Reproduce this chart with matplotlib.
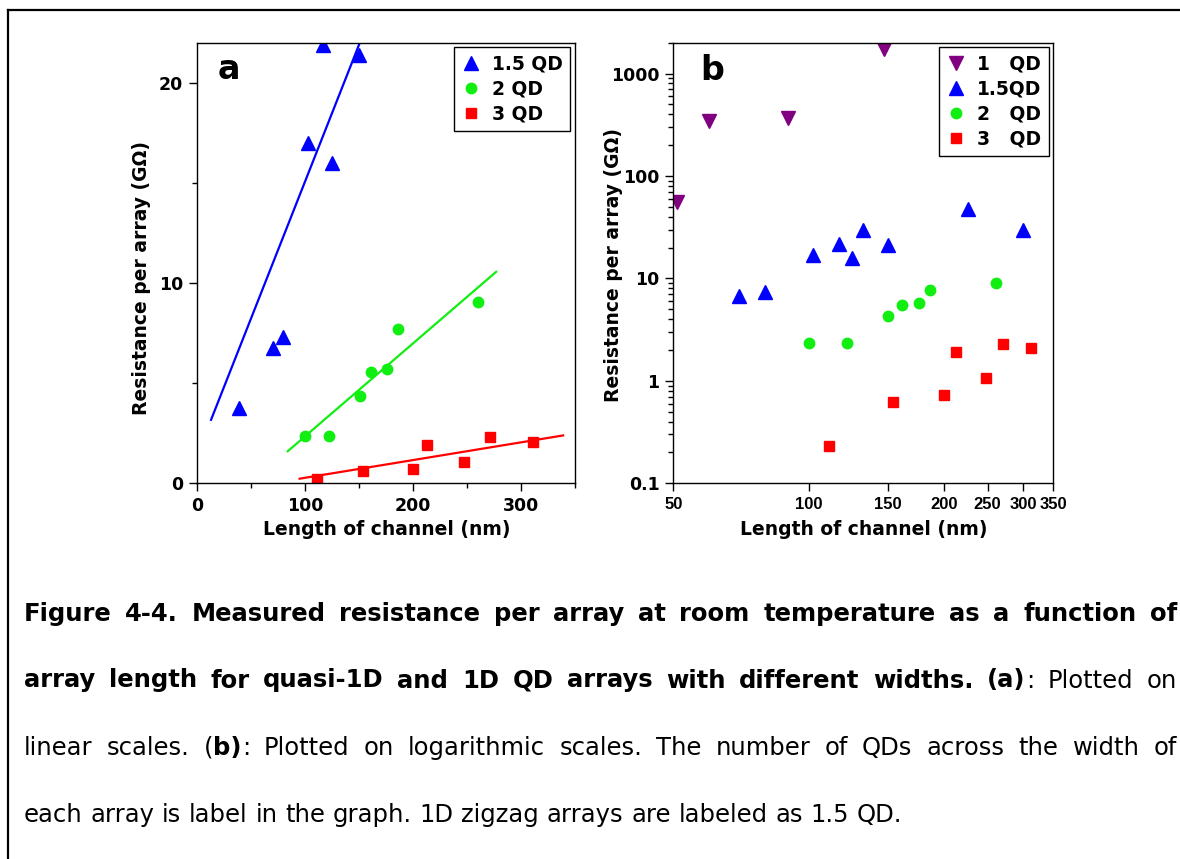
import numpy as np
import matplotlib.pyplot as plt
from matplotlib.ticker import NullLocator, LogLocator, NullFormatter
from matplotlib.lines import Line2D
from matplotlib.transforms import IdentityTransform

# measured resistance per array (GOhm) vs length of channel (nm)
len_1qd = [51, 60, 90, 147]
res_1qd = [56, 345, 364, 1730]

len_15qd = [39, 70, 80, 102.5, 117, 125, 132, 150, 226, 299]
res_15qd = [3.75, 6.75, 7.3, 17.0, 21.9, 16.0, 30.0, 21.4, 48.0, 29.5]

len_2qd = [100, 122, 150.5, 161, 176, 186, 260.5]
res_2qd = [2.36, 2.36, 4.34, 5.55, 5.7, 7.72, 9.07]

len_3qd = [111, 154, 200, 213, 247.5, 271, 311.5]
res_3qd = [0.23, 0.62, 0.73, 1.9, 1.07, 2.3, 2.08]

# linear fits drawn in panel a (end points)
fit15_x = [13, 152]
fit15_y = [3.17, 22.17]
fit2_x = [84, 277]
fit2_y = [1.6, 10.56]
fit3_x = [95, 339]
fit3_y = [0.23, 2.39]

xticks_a = [0, 100, 200, 300]
yticks_a = [0, 10, 20]
xticks_b = [50, 100, 150, 200, 250, 300, 350]
yticks_b = [0.1, 1, 10, 100, 1000]
yticklabels_b = ['0.1', '1', '10', '100', '1000']

caption = [
    [("Figure 4-4. Measured resistance per array at room temperature as a function of", "bold")],
    [("array length for quasi-1D and 1D QD arrays with different widths. (a)", "bold"),
     (":", "normal"), (" Plotted on", "normal")],
    [("linear scales. (", "normal"), ("b)", "bold"),
     (": Plotted on logarithmic scales. The number of QDs across the width of", "normal")],
    [("each array is label in the graph. 1D zigzag arrays are labeled as 1.5 QD.", "normal")],
]

BLUE = '#0000ff'
GREEN = '#11ee11'
RED = '#ff0000'
PURPLE = '#800080'

W, H = 1180, 859
fig = plt.figure(figsize=(W / 100, H / 100), dpi=100)
fig.patch.set_facecolor('white')

tickfont = dict(family='DejaVu Sans', weight='bold', size=12.5)
labelfont = dict(family='DejaVu Sans', weight='bold', size=13.5)
legfont = dict(family='DejaVu Sans', weight='bold', size=13.5)


def style_axes(ax):
    for sp in ax.spines.values():
        sp.set_linewidth(1.0)
        sp.set_color('black')
    ax.tick_params(which='both', direction='out', top=False, right=False, width=1.0)
    ax.tick_params(which='major', length=6, pad=4)
    ax.tick_params(which='minor', length=3.5)
    for lab in ax.get_yticklabels():
        lab.set_fontproperties(tickfont)
    ax.set_xlabel('Length of channel (nm)', fontdict=labelfont)
    ax.set_ylabel('Resistance per array (G\u03a9)', fontdict=labelfont)


def add_legend(ax):
    leg = ax.legend(loc='upper right', prop=legfont, handlelength=1.0, handletextpad=0.6,
                    labelspacing=0.32, borderpad=0.4, borderaxespad=0.25, fancybox=False,
                    framealpha=1, edgecolor='black')
    leg.get_frame().set_linewidth(1.0)


# ---------- panel a: linear ----------
ax_a = fig.add_axes([197 / W, 1 - 483.3 / H, 378 / W, 440.6 / H])
ax_a.plot(len_15qd, res_15qd, ls='none', marker='^', ms=9.5, color=BLUE, label='1.5 QD')
ax_a.plot(len_2qd, res_2qd, ls='none', marker='o', ms=7.5, color=GREEN, label='2 QD')
ax_a.plot(len_3qd, res_3qd, ls='none', marker='s', ms=7, color=RED, label='3 QD')
ax_a.plot(fit15_x, fit15_y, color=BLUE, lw=1.6)
ax_a.plot(fit2_x, fit2_y, color=GREEN, lw=1.6)
ax_a.plot(fit3_x, fit3_y, color=RED, lw=1.6)
ax_a.set_xlim(0, 350)
ax_a.set_ylim(0, 22)
ax_a.set_xticks(xticks_a)
ax_a.set_xticks([50, 150, 250, 350], minor=True)
ax_a.set_yticks(yticks_a)
ax_a.set_yticks([5, 15], minor=True)
style_axes(ax_a)
for lab in ax_a.get_xticklabels():
    lab.set_fontproperties(tickfont)
ax_a.yaxis.set_label_coords(-0.122, 0.465)
ax_a.xaxis.set_label_coords(0.502, -0.083)
ax_a.text(0.055, 0.918, 'a', transform=ax_a.transAxes, fontsize=24, weight='bold',
          va='baseline')
add_legend(ax_a)

# ---------- panel b: log-log ----------
ax_b = fig.add_axes([673.3 / W, 1 - 483.3 / H, 380 / W, 440.6 / H])
ax_b.plot(len_1qd, res_1qd, ls='none', marker='v', ms=10, color=PURPLE, label='1   QD')
ax_b.plot(len_15qd, res_15qd, ls='none', marker='^', ms=9.5, color=BLUE, label='1.5QD')
ax_b.plot(len_2qd, res_2qd, ls='none', marker='o', ms=7.5, color=GREEN, label='2   QD')
ax_b.plot(len_3qd, res_3qd, ls='none', marker='s', ms=7, color=RED, label='3   QD')
ax_b.set_xscale('log')
ax_b.set_yscale('log')
ax_b.set_xlim(50, 350)
ax_b.set_ylim(0.1, 2000)
ax_b.set_xticks(xticks_b)
ax_b.set_xticklabels([str(v) for v in xticks_b])
ax_b.xaxis.set_minor_locator(NullLocator())
ax_b.set_yticks(yticks_b)
ax_b.set_yticklabels(yticklabels_b)
ax_b.yaxis.set_minor_locator(LogLocator(base=10, subs=range(2, 10)))
ax_b.yaxis.set_minor_formatter(NullFormatter())
style_axes(ax_b)
for lab in ax_b.get_xticklabels():
    lab.set_fontproperties(dict(family='Liberation Sans', weight='bold', size=12))
ax_b.yaxis.set_label_coords(-0.132, 0.495)
ax_b.xaxis.set_label_coords(0.502, -0.083)
ax_b.text(0.071, 0.916, 'b', transform=ax_b.transAxes, fontsize=24, weight='bold',
          va='baseline')
add_legend(ax_b)

# ---------- frame lines of the page ----------
fig.add_artist(Line2D([7.5, 7.5], [0, H - 10], transform=IdentityTransform(),
                      color='black', lw=1.6))
fig.add_artist(Line2D([7.5, W], [H - 10, H - 10], transform=IdentityTransform(),
                      color='black', lw=1.6))

# ---------- justified caption ----------
renderer = fig.canvas.get_renderer()
cap_size = 17.5
left_px, right_px = 24, 1177
baselines = [620.7, 687.5, 755, 822]


def split_words(segments):
    words = [[]]
    for text, weight in segments:
        parts = text.split(' ')
        for i, p in enumerate(parts):
            if i > 0:
                words.append([])
            if p:
                words[-1].append((p, weight))
    return [w for w in words if w]


sp_a = fig.text(0, 0, 'x x', fontsize=cap_size, transform=IdentityTransform())
sp_b = fig.text(0, 0, 'xx', fontsize=cap_size, transform=IdentityTransform())
space_w = (sp_a.get_window_extent(renderer).width - sp_b.get_window_extent(renderer).width)
sp_a.remove()
sp_b.remove()

for li, segs in enumerate(caption):
    y = H - baselines[li]
    words = split_words(segs)
    placed = []
    widths = []
    for word in words:
        pieces = []
        ww = 0
        for txt, weight in word:
            t = fig.text(0, y, txt, fontsize=cap_size, weight=weight, va='baseline',
                         transform=IdentityTransform())
            w = t.get_window_extent(renderer).width
            pieces.append((t, w))
            ww += w
        placed.append(pieces)
        widths.append(ww)
    if li < len(caption) - 1:
        gap = (right_px - left_px - sum(widths)) / (len(words) - 1)
    else:
        gap = space_w
    x = left_px
    for pieces, ww in zip(placed, widths):
        xx = x
        for t, w in pieces:
            t.set_position((xx, y))
            xx += w
        x += ww + gap

fig.savefig('out.png', dpi=100, facecolor='white')
